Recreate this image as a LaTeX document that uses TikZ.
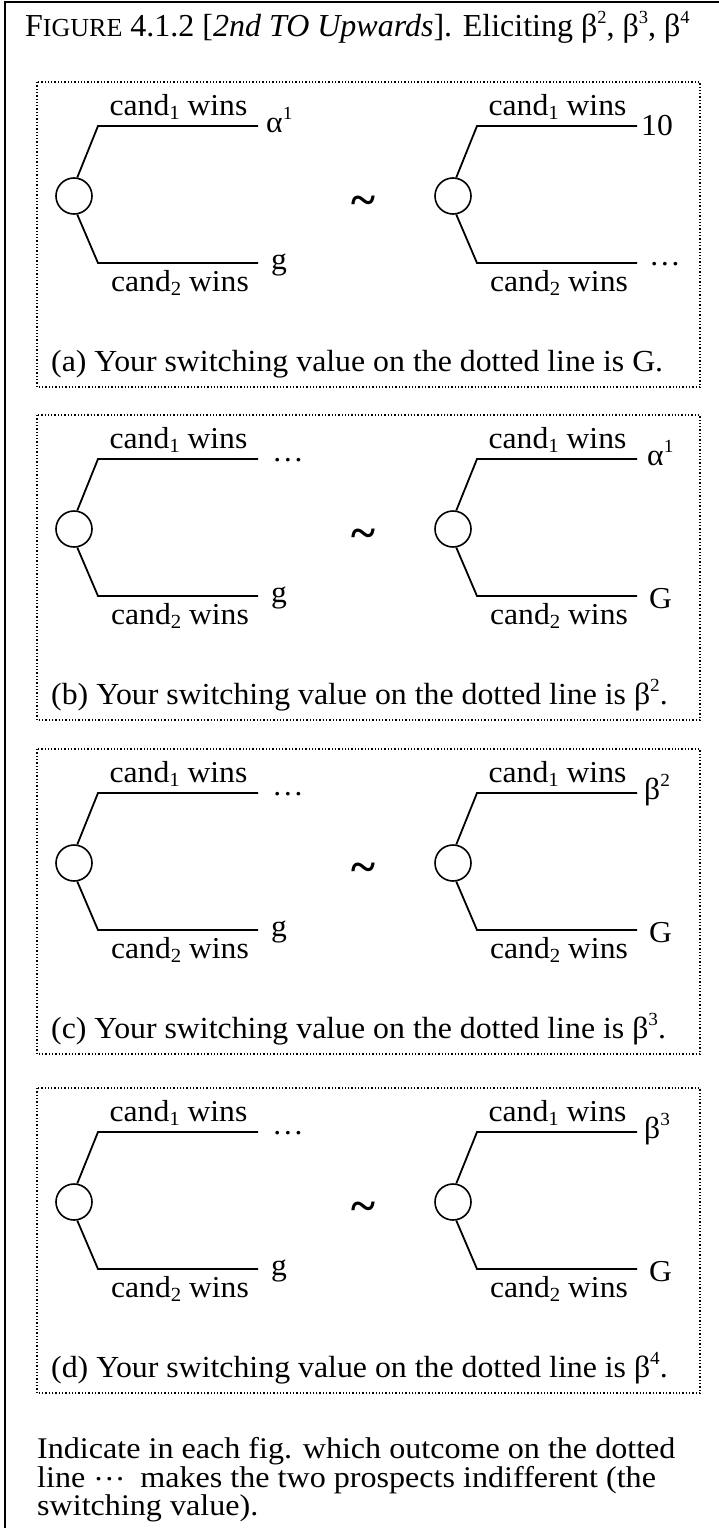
\documentclass[tikz,border=0pt]{standalone}
\usepackage{fontspec}
\setmainfont{Liberation Serif}
\newfontfamily\lblfont[FakeStretch=1.04]{Liberation Serif}
\newfontfamily\capfont[FakeStretch=1.04]{Liberation Serif}
\newfontfamily\botfont[FakeStretch=1.07]{Liberation Serif}
\newcommand\lblsize{\fontsize{30.4}{34}\selectfont}
\newcommand\capsize{\fontsize{30.6}{34}\selectfont}
\newcommand\mysub[1]{\raisebox{-0.16em}{\fontsize{20}{21}\selectfont #1}}
\newcommand\mysup[1]{\raisebox{0.42em}{\fontsize{18.5}{19}\selectfont #1}}
\tikzset{
  lbl/.style={font=\lblfont\lblsize, inner sep=0pt},
  endlbl/.style={font=\lblfont\lblsize, inner sep=0pt, anchor=base west},
  captxt/.style={font=\capfont\capsize, inner sep=0pt, anchor=base west},
  bottomtxt/.style={font=\botfont\fontsize{30}{33}\selectfont, inner sep=0pt, anchor=base west},
  chance/.style={circle, draw, line width=1.6pt, minimum size=36pt, inner sep=0pt},
  branch/.style={line width=1.8pt},
  panelbox/.style={draw, dotted, line width=1.3pt},
  framestyle/.style={line width=2.2pt},
  tildestyle/.style={font=\bfseries\fontsize{46}{46}\selectfont, inner sep=0pt, anchor=base}
}
% #1 top y, #2 id, #3 caption
\newcommand\panelbase[3]{%
 \begin{scope}[shift={(0,#1)}]
  \draw[panelbox] (37,0) rectangle (700,305);
  \node[chance] (L#2) at (74,114) {};
  \node[chance] (R#2) at (453,114) {};
  \coordinate (L#2u) at (98,44);  \coordinate (L#2ue) at (258,44);
  \coordinate (L#2l) at (98,181); \coordinate (L#2le) at (258,181);
  \coordinate (R#2u) at (477,44);  \coordinate (R#2ue) at (637,44);
  \coordinate (R#2l) at (477,181); \coordinate (R#2le) at (637,181);
  \draw[branch] (L#2.80) -- (L#2u) -- (L#2ue);
  \draw[branch] (L#2.-80) -- (L#2l) -- (L#2le);
  \draw[branch] (R#2.80) -- (R#2u) -- (R#2ue);
  \draw[branch] (R#2.-80) -- (R#2l) -- (R#2le);
  \node[lbl, anchor=base] (L#2t) at (178.5,33) {cand\mysub{1} wins};
  \node[lbl, anchor=base] (L#2b) at (180,209) {cand\mysub{2} wins};
  \node[lbl, anchor=base] (R#2t) at (557.5,33) {cand\mysub{1} wins};
  \node[lbl, anchor=base] (R#2b) at (559,209) {cand\mysub{2} wins};
  \node[tildestyle] (T#2) at (363,133) {\textasciitilde};
  \node[endlbl] (L#2g) at (271,187) {g};
  \node[captxt] (C#2) at (51,289) {#3};
 \end{scope}}
\begin{document}
\begin{tikzpicture}[x=1pt,y=-1pt]
\useasboundingbox (0,0) rectangle (719,1528);
\draw[framestyle] (5,1530) -- (5,2) -- (720,2);
\node[anchor=base west, inner sep=0pt, font=\fontsize{32}{36}\selectfont] (title) at (25,37)
  {F{\fontsize{26}{30}\selectfont IGURE} 4.1.2 [\textit{2nd TO Upwards}]. Eliciting β\mysup{2}, β\mysup{3}, β\mysup{4}};
% panel a
\panelbase{82}{a}{(a) Your switching value on the dotted line is G.}
\begin{scope}[shift={(0,82)}]
  \node[endlbl] (La1) at (266,50) {α\mysup{1}};
  \node[endlbl] (Ra1) at (641,53) {10};
  \node[endlbl] (Ra2) at (649,183) {…};
\end{scope}
% panel b
\panelbase{415}{b}{(b) Your switching value on the dotted line is β\mysup{2}.}
\begin{scope}[shift={(0,415)}]
  \node[endlbl] (Lb1) at (272,46) {…};
  \node[endlbl] (Rb1) at (647,50) {α\mysup{1}};
  \node[endlbl] (Rb2) at (649,193) {G};
\end{scope}
% panel c
\panelbase{749}{c}{(c) Your switching value on the dotted line is β\mysup{3}.}
\begin{scope}[shift={(0,749)}]
  \node[endlbl] (Lc1) at (272,46) {…};
  \node[endlbl] (Rc1) at (644,50) {β\mysup{2}};
  \node[endlbl] (Rc2) at (649,193) {G};
\end{scope}
% panel d
\panelbase{1088}{d}{(d) Your switching value on the dotted line is β\mysup{4}.}
\begin{scope}[shift={(0,1088)}]
  \node[endlbl] (Ld1) at (272,46) {…};
  \node[endlbl] (Rd1) at (644,50) {β\mysup{3}};
  \node[endlbl] (Rd2) at (649,193) {G};
\end{scope}
\node[bottomtxt] (n1) at (37,1458) {Indicate in each fig. which outcome on the dotted};
\node[bottomtxt] (n2) at (37,1487) {line \raisebox{0.22em}{…}\hspace{0.5em}makes the two prospects indifferent (the};
\node[bottomtxt] (n3) at (37,1515) {switching value).};
\end{tikzpicture}
\end{document}
